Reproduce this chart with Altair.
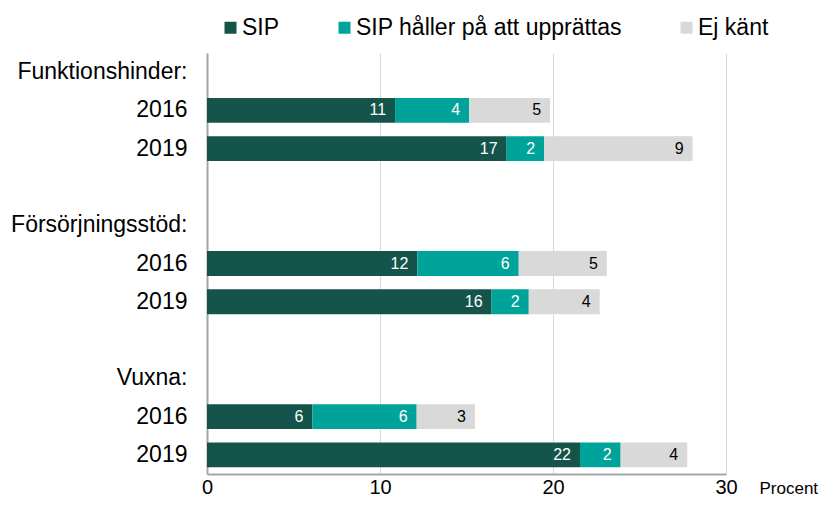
import altair as alt
import pandas as pd

# Row keys (display order) and their visible labels
row_keys = ["f0", "f1", "f2", "g1", "s0", "s1", "s2", "g2", "v0", "v1", "v2"]
row_labels = ["Funktionshinder:", "2016", "2019", "",
              "Försörjningsstöd:", "2016", "2019", "",
              "Vuxna:", "2016", "2019"]

# Bars (rows that carry data)
bar_rows = ["f1", "f2", "s1", "s2", "v1", "v2"]
series_names = ["SIP", "SIP håller på att upprättas", "Ej känt"]
sip = [10.87, 17.32, 12.16, 16.45, 6.09, 21.56]
pagar = [4.28, 2.17, 5.86, 2.15, 6.03, 2.35]
ej_kant = [4.68, 8.58, 5.09, 4.10, 3.37, 3.85]
colors = ["#14544B", "#00A39A", "#D9D9D9"]
x_ticks = [0, 10, 20, 30]

records = []
for i, r in enumerate(bar_rows):
    for k, (name, vals) in enumerate(zip(series_names, [sip, pagar, ej_kant])):
        records.append({"row": r, "series": name, "order": k, "value": vals[i]})
df = pd.DataFrame(records)

label_expr = ""
for key, lab in zip(row_keys, row_labels):
    label_expr += f"datum.value == '{key}' ? '{lab}' : "
label_expr += "''"

FONT = "Liberation Sans"

base = alt.Chart(df).transform_stack(
    stack="value",
    groupby=["row"],
    as_=["x_start", "x_end"],
    sort=[alt.SortField("order", order="ascending")],
)

y_scale = alt.Scale(domain=row_keys, paddingInner=0.35, paddingOuter=0.175)

y_enc = alt.Y(
    "row:N",
    title=None,
    scale=y_scale,
    axis=alt.Axis(
        labelExpr=label_expr,
        ticks=False,
        grid=False,
        domainColor="#A6A6A6",
        domainWidth=2,
        labelFontSize=23,
        labelColor="black",
        labelPadding=20,
        labelFont=FONT,
        labelLimit=0,
    ),
)

bars = base.mark_bar().encode(
    x=alt.X(
        "x_start:Q",
        scale=alt.Scale(domain=[0, 30], nice=False),
        axis=alt.Axis(
            values=x_ticks,
            grid=True,
            gridColor="#D9D9D9",
            domainColor="#A6A6A6",
            domainWidth=2,
            ticks=False,
            labelFlush=False,
            labelFontSize=20,
            labelColor="black",
            labelPadding=3,
            labelFont=FONT,
            title="Procent",
            titleX=552,
            titleY=14,
            titleAlign="left",
            titleBaseline="middle",
            titleFontSize=17,
            titleFontWeight="normal",
            titleColor="black",
            titleFont=FONT,
        ),
    ),
    x2="x_end:Q",
    y=y_enc,
    color=alt.Color(
        "series:N",
        scale=alt.Scale(domain=series_names, range=colors),
        legend=alt.Legend(
            title=None,
            orient="none",
            direction="horizontal",
            legendX=12,
            legendY=-37,
            symbolType="square",
            symbolSize=144,
            symbolStrokeWidth=0,
            labelFontSize=23,
            labelFont=FONT,
            labelColor="black",
            labelOffset=0,
            labelLimit=0,
            columnPadding=53,
        ),
    ),
)

labels = base.mark_text(align="right", baseline="middle", dx=-9, fontSize=16, font=FONT).encode(
    x="x_end:Q",
    y=alt.Y("row:N", scale=y_scale),
    text=alt.Text("value:Q", format=".0f"),
    color=alt.condition(alt.datum.series == "Ej känt", alt.value("black"), alt.value("white")),
)

chart = (
    alt.layer(bars, labels)
    .properties(
        width=519,
        height=421,
        autosize=alt.AutoSizeParams(type="none"),
        padding={"left": 199, "top": 45, "right": 94, "bottom": 24},
    )
    .configure_view(stroke=None)
)

chart.save("out.html", embed_options={"renderer": "svg", "actions": False})
